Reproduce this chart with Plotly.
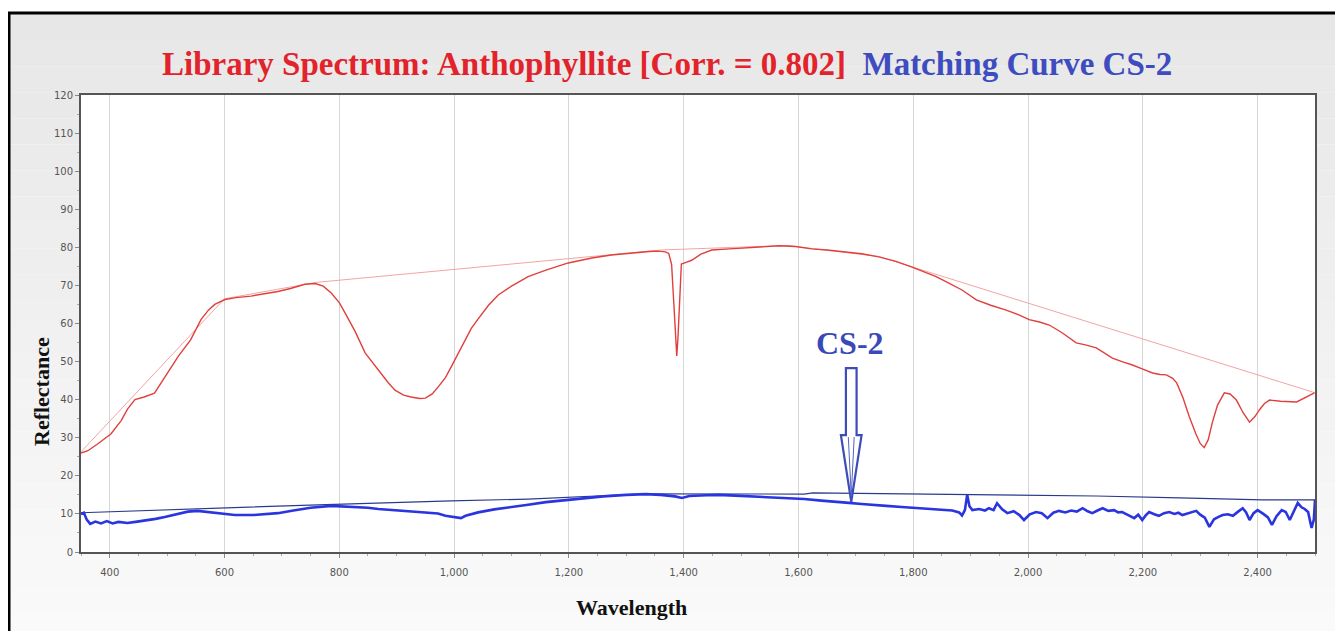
import plotly.graph_objects as go

# ---------------- data ----------------
lib_wl = [350, 362, 380, 402, 420, 431, 444, 460, 478, 490, 501, 520, 541, 559, 572, 583, 601, 620, 646, 670,
          693, 715, 740, 758, 772, 786, 800, 810, 828, 845, 868, 885, 897, 912, 925, 940, 950, 962, 972, 985,
          995, 1008, 1019, 1030, 1042, 1060, 1077, 1100, 1129, 1160, 1199, 1240, 1274, 1310, 1340, 1356, 1368,
          1374, 1379, 1383, 1386, 1388, 1390, 1393, 1396, 1403, 1414, 1430, 1449, 1480, 1508, 1540, 1566, 1595,
          1623, 1650, 1682, 1710, 1740, 1770, 1798, 1820, 1840, 1862, 1885, 1910, 1935, 1962, 1985, 2002, 2020,
          2037, 2060, 2084, 2100, 2119, 2133, 2147, 2165, 2182, 2200, 2217, 2230, 2241, 2252, 2259, 2270, 2281,
          2292, 2300, 2307, 2314, 2321, 2330, 2342, 2352, 2363, 2375, 2386, 2395, 2403, 2412, 2421, 2440, 2468,
          2485, 2499]
lib_refl = [26.0, 26.6, 28.5, 31.0, 34.5, 37.5, 40.0, 40.7, 41.7, 44.5, 47.0, 51.5, 55.7, 61.0, 63.5, 65.0, 66.3,
            66.8, 67.2, 67.8, 68.4, 69.2, 70.3, 70.5, 69.8, 68.0, 65.5, 62.8, 57.8, 52.3, 47.8, 44.5, 42.5, 41.2,
            40.7, 40.3, 40.4, 41.5, 43.3, 45.8, 48.6, 52.5, 55.7, 58.7, 61.2, 64.8, 67.5, 69.8, 72.3, 74.0, 75.9,
            77.2, 78.0, 78.6, 78.9, 79.0, 78.8, 78.4, 75.5, 65.0, 55.0, 51.5, 56.0, 68.0, 75.6, 76.0, 76.6, 78.2,
            79.3, 79.6, 79.9, 80.2, 80.4, 80.2, 79.6, 79.3, 78.8, 78.3, 77.5, 76.3, 74.8, 73.6, 72.3, 70.6, 68.8,
            66.2, 64.8, 63.5, 62.2, 61.0, 60.4, 59.6, 57.5, 54.9, 54.4, 53.6, 52.2, 50.9, 49.9, 49.1, 48.0, 47.0,
            46.6, 46.5, 45.6, 44.4, 40.5, 35.5, 31.2, 28.5, 27.4, 29.5, 33.9, 38.5, 41.8, 41.5, 39.9, 36.5, 34.1,
            35.5, 37.3, 39.0, 39.9, 39.6, 39.4, 40.6, 41.8]

lib_hull_wl = [350, 600, 760, 1360, 1580, 1740, 2500]
lib_hull_refl = [26.3, 66.5, 70.8, 79.3, 80.5, 77.6, 41.8]

cs2_wl = [350, 355, 360, 366, 375, 385, 395, 405, 415, 431, 445, 460, 480, 496, 515, 536, 553, 575, 600, 618, 650,
          693, 720, 750, 786, 820, 850, 868, 900, 930, 960, 972, 985, 1000, 1012, 1020, 1030, 1042, 1070, 1100,
          1129, 1160, 1200, 1229, 1260, 1300, 1334, 1360, 1385, 1397, 1410, 1440, 1461, 1490, 1520, 1550, 1578,
          1610, 1640, 1670, 1688, 1710, 1730, 1753, 1780, 1800, 1830, 1850, 1868, 1880, 1885, 1890, 1894, 1898,
          1903, 1915, 1925, 1932, 1940, 1946, 1955, 1964, 1975, 1985, 1993, 2003, 2014, 2024, 2034, 2044, 2054,
          2065, 2075, 2085, 2095, 2104, 2112, 2121, 2130, 2140, 2150, 2157, 2164, 2172, 2185, 2192, 2199, 2205,
          2211, 2220, 2228, 2237, 2246, 2255, 2262, 2269, 2280, 2293, 2300, 2308, 2316, 2324, 2332, 2339, 2348,
          2357, 2366, 2374, 2380, 2386, 2393, 2400, 2410, 2418, 2425, 2433, 2442, 2449, 2456, 2463, 2470, 2476,
          2482, 2488, 2494, 2498, 2500]
cs2_refl = [10.0, 10.3, 8.5, 7.4, 8.0, 7.5, 8.1, 7.5, 7.9, 7.6, 7.9, 8.2, 8.7, 9.2, 9.8, 10.6, 10.8, 10.4, 9.9, 9.7,
            9.7, 10.2, 10.9, 11.6, 12.1, 11.9, 11.6, 11.3, 10.9, 10.6, 10.3, 10.1, 9.5, 9.2, 8.9, 9.5, 9.9, 10.4,
            11.2, 11.9, 12.4, 13.1, 13.7, 14.2, 14.6, 15.0, 15.2, 15.0, 14.6, 14.2, 14.7, 14.9, 15.0, 14.8, 14.6,
            14.4, 14.2, 13.9, 13.5, 13.2, 12.9, 12.6, 12.3, 12.1, 11.8, 11.6, 11.3, 11.1, 10.9, 10.4, 9.6, 11.0,
            15.0, 12.0, 11.0, 11.3, 10.9, 11.5, 11.0, 12.8, 11.2, 10.2, 10.7, 9.7, 8.4, 9.9, 10.5, 10.2, 8.9, 10.3,
            10.8, 10.4, 10.9, 10.6, 11.5, 10.7, 10.2, 10.9, 11.5, 10.8, 11.0, 10.4, 10.5, 9.9, 8.9, 9.8, 8.4, 9.6,
            10.5, 9.9, 9.5, 10.2, 10.5, 10.0, 10.3, 9.7, 10.2, 10.8, 9.8, 9.0, 6.6, 8.6, 9.2, 9.7, 9.9, 9.5, 10.6,
            11.5, 10.4, 8.4, 10.2, 11.0, 10.0, 9.1, 7.1, 9.4, 11.0, 10.5, 8.4, 10.9, 12.9, 11.8, 11.3, 10.5, 6.3,
            8.5, 13.7]

cs2_hull_wl = [350, 536, 763, 995, 1129, 1334, 1610, 1625, 1894, 2119, 2264, 2409, 2500]
cs2_hull_refl = [10.3, 11.3, 12.4, 13.4, 13.9, 15.3, 15.2, 15.5, 15.1, 14.7, 14.2, 13.7, 13.7]

x_ticks = [400, 600, 800, 1000, 1200, 1400, 1600, 1800, 2000, 2200, 2400]
y_ticks = list(range(0, 121, 10))

title_left = "Library Spectrum: Anthophyllite [Corr. = 0.802]"
title_right = "Matching Curve CS-2"
marker_label = "CS-2"
marker_wl = 1692

# ---------------- figure ----------------
# the page body has an 8 px margin, so the figure is shifted by OFF px; work in screen pixels
OFF = 8
SW, SH = 1343, 631                   # screen size
PL, PR, PT, PB = 81, 1315, 95, 552   # plot area in screen pixels
W, H = SW - OFF, SH - OFF
ML, MR, MT, MB = PL - OFF, SW - PR, PT - OFF, SH - PB
PW, PH = PR - PL, PB - PT


def px2paper_x(px):
    return (px - PL) / PW


def px2paper_y(py):
    return (PB - py) / PH


fig = go.Figure()

fig.add_trace(go.Scatter(x=lib_hull_wl, y=lib_hull_refl, mode="lines",
                         line=dict(color="#f2a4a4", width=1), hoverinfo="skip"))
fig.add_trace(go.Scatter(x=lib_wl, y=lib_refl, mode="lines",
                         line=dict(color="#e0403c", width=1.4)))
fig.add_trace(go.Scatter(x=cs2_hull_wl, y=cs2_hull_refl, mode="lines",
                         line=dict(color="#2b3a8c", width=1.2), hoverinfo="skip"))
fig.add_trace(go.Scatter(x=cs2_wl, y=cs2_refl, mode="lines",
                         line=dict(color="#2a35e0", width=2.6)))

shapes = []
# background gradient inside the frame
x0p, x1p = px2paper_x(10), px2paper_x(1336)
top_px, bot_px = 14, 640
n = 24
c_top, c_bot = (231, 231, 231), (250, 250, 250)
for i in range(n):
    a = top_px + (bot_px - top_px) * i / n
    b = top_px + (bot_px - top_px) * (i + 1) / n
    t = i / (n - 1)
    c = tuple(int(round(c_top[k] + (c_bot[k] - c_top[k]) * t)) for k in range(3))
    shapes.append(dict(type="rect", xref="paper", yref="paper", layer="below",
                       x0=x0p, x1=x1p, y0=px2paper_y(b), y1=px2paper_y(a),
                       line=dict(width=0), fillcolor="rgb(%d,%d,%d)" % c))
# plot area white
shapes.append(dict(type="rect", xref="paper", yref="paper", layer="below",
                   x0=0, x1=1, y0=0, y1=1, line=dict(width=0), fillcolor="white"))
# black frame (top and left)
shapes.append(dict(type="line", xref="paper", yref="paper", x0=px2paper_x(8), x1=px2paper_x(1350),
                   y0=px2paper_y(13), y1=px2paper_y(13), line=dict(color="black", width=3)))
shapes.append(dict(type="line", xref="paper", yref="paper", x0=px2paper_x(9), x1=px2paper_x(9),
                   y0=px2paper_y(12), y1=px2paper_y(640), line=dict(color="black", width=3)))

# hollow arrow pointing to the matching curve
hw_s, hw_h = 9.3, 18.0
y_top, y_base, y_tip = 48.3, 30.7, 13.2
xm = marker_wl
arrow_path = ("M {a},{yt} L {b},{yt} L {b},{yb} L {c},{yb} L {m},{tip} L {d},{yb} L {a},{yb} Z"
              .format(a=xm - hw_s, b=xm + hw_s, c=xm + hw_h, d=xm - hw_h, m=xm,
                      yt=y_top, yb=y_base, tip=y_tip))
shapes.append(dict(type="path", xref="x", yref="y", path=arrow_path,
                   line=dict(color="#3c4cb8", width=2.2), fillcolor="rgba(255,255,255,0.85)"))
inner_path = ("M {a},{yb} L {m},{tip} L {b},{yb}"
              .format(a=xm - hw_s * 0.55, b=xm + hw_s * 0.55, m=xm, yb=y_base - 0.5, tip=y_tip + 1.5))
shapes.append(dict(type="path", xref="x", yref="y", path=inner_path,
                   line=dict(color="#5563c4", width=1)))

annotations = [
    dict(xref="paper", yref="paper", x=px2paper_x(667), y=px2paper_y(64), showarrow=False,
         xanchor="center", yanchor="middle",
         text="<b><span style='color:#e3232b'>%s</span>  <span style='color:#3d4cbf'>%s</span></b>"
              % (title_left, title_right),
         font=dict(family="Liberation Serif, Times New Roman, serif", size=33)),
    dict(xref="paper", yref="paper", x=px2paper_x(41), y=px2paper_y(392), showarrow=False,
         textangle=-90, xanchor="center", yanchor="middle",
         text="<b>Reflectance</b>",
         font=dict(family="Liberation Serif, Times New Roman, serif", size=22, color="#111111")),
    dict(xref="paper", yref="paper", x=px2paper_x(631), y=px2paper_y(607), showarrow=False,
         xanchor="center", yanchor="middle",
         text="<b>Wavelength</b>",
         font=dict(family="Liberation Serif, Times New Roman, serif", size=22, color="#111111")),
    dict(xref="x", yref="y", x=marker_wl - 3, y=55.0, showarrow=False,
         xanchor="center", yanchor="middle",
         text="<b>%s</b>" % marker_label,
         font=dict(family="Liberation Serif, Times New Roman, serif", size=32, color="#3a49b8")),
]

fig.update_layout(
    width=W, height=H,
    margin=dict(l=ML, r=MR, t=MT, b=MB, pad=0),
    paper_bgcolor="white",
    plot_bgcolor="white",
    showlegend=False,
    shapes=shapes,
    annotations=annotations,
    xaxis=dict(range=[350, 2500], tickmode="array", tickvals=x_ticks,
               ticktext=["{:,}".format(v) for v in x_ticks],
               showgrid=True, gridcolor="#d6d6d6", gridwidth=1, zeroline=False,
               showline=True, linecolor="#555555", linewidth=2, mirror=True,
               ticks="outside", ticklen=4, tickcolor="#888888", ticklabelstandoff=6,
               minor=dict(dtick=50, ticks="outside", ticklen=2, tickcolor="#aaaaaa", showgrid=False),
               tickfont=dict(family="DejaVu Sans, Verdana, sans-serif", size=10, color="#555555")),
    yaxis=dict(range=[0, 120], tickmode="array", tickvals=y_ticks,
               showgrid=False, zeroline=False,
               showline=True, linecolor="#555555", linewidth=2, mirror=True,
               ticks="outside", ticklen=4, tickcolor="#888888",
               minor=dict(dtick=5, ticks="outside", ticklen=2, tickcolor="#aaaaaa", showgrid=False),
               tickfont=dict(family="DejaVu Sans, Verdana, sans-serif", size=10, color="#555555")),
)

fig.write_html("out.html")
